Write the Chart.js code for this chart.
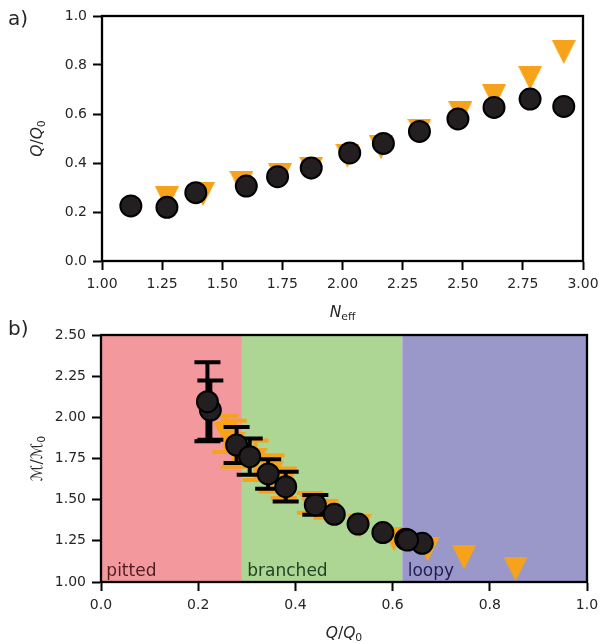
<!DOCTYPE html>
<html>
<head>
<meta charset="utf-8">
<script src="https://cdn.jsdelivr.net/npm/chart.js@4"></script>
<style>
  body { margin: 0; background: #fff; }
  #wrap { position: relative; width: 601px; height: 644px; }
  canvas { position: absolute; left: 0; }
  #topChart { top: 0; }
  #bottomChart { top: 300px; }
</style>
</head>
<body>
<div id="wrap">
  <canvas id="topChart" width="601" height="322"></canvas>
  <canvas id="bottomChart" width="601" height="344"></canvas>
</div>
<script>
// ===== data (a) =====
const neffCircle = [1.12, 1.27, 1.39, 1.60, 1.73, 1.87, 2.03, 2.17, 2.32, 2.48, 2.63, 2.78, 2.92];
const qCircle    = [0.225, 0.219, 0.279, 0.306, 0.344, 0.380, 0.441, 0.480, 0.529, 0.580, 0.627, 0.661, 0.631];
const neffTri    = [1.27, 1.42, 1.58, 1.74, 1.87, 2.02, 2.16, 2.32, 2.49, 2.63, 2.78, 2.92];
const qTri       = [0.256, 0.273, 0.318, 0.351, 0.376, 0.430, 0.464, 0.532, 0.603, 0.672, 0.747, 0.853];

// ===== data (b) =====
const mCircle    = [2.044, 2.095, 1.832, 1.761, 1.656, 1.579, 1.468, 1.411, 1.352, 1.300, 1.259, 1.235, 1.255];
const mCircleErr = [0.18, 0.24, 0.11, 0.11, 0.09, 0.09, 0.06, 0, 0, 0, 0, 0, 0];
const mTri       = [1.90, 1.84, 1.74, 1.66, 1.60, 1.48, 1.43, 1.34, 1.26, 1.20, 1.15, 1.08];
const mTriErr    = [0.11, 0.14, 0.12, 0.11, 0.09, 0.06, 0.04, 0, 0, 0, 0, 0];

const regionEdges  = [0, 0.29, 0.62, 1.0];
const regionNames  = ['pitted', 'branched', 'loopy'];
const regionFills  = ['#f3999d', '#add594', '#9a98c9'];
const regionInk    = ['#4f1c20', '#1f4322', '#1f1e4f'];

const FONT = "'DejaVu Sans', sans-serif";
const INK = '#262626';
const ORANGE = '#f7a21b';
const DARK = '#231f20';

// triangle marker (matplotlib 'v')
const triImg = document.createElement('canvas');
triImg.width = 24; triImg.height = 24;
(function () {
    const c = triImg.getContext('2d');
    c.fillStyle = ORANGE;
    c.beginPath();
    c.moveTo(0, 0); c.lineTo(24, 0); c.lineTo(12, 24);
    c.closePath();
    c.fill();
})();

// rich text: italic / subscript pieces
function fontFor(p, size) {
    return (p.italic ? 'italic ' : '') + (p.sub ? size * 0.7 : size) + 'px ' + FONT;
}
function drawRich(ctx, parts, cx, cy, rot, size) {
    ctx.save();
    ctx.translate(cx, cy);
    ctx.rotate(rot);
    ctx.fillStyle = INK;
    ctx.textBaseline = 'alphabetic';
    const widths = parts.map(p => { ctx.font = fontFor(p, size); return ctx.measureText(p.t).width; });
    let x = -widths.reduce((a, b) => a + b, 0) / 2;
    parts.forEach((p, i) => {
        ctx.font = fontFor(p, size);
        ctx.fillText(p.t, x, size * 0.36 + (p.sub ? size * 0.22 : 0));
        x += widths[i];
    });
    ctx.restore();
}

function drawErrorBars(chart, xs, ys, errs, color) {
    const { ctx, scales: { x, y } } = chart;
    ctx.save();
    ctx.strokeStyle = color;
    ctx.lineWidth = 4;
    xs.forEach((q, i) => {
        if (!errs[i]) return;
        const px = x.getPixelForValue(q);
        const top = y.getPixelForValue(ys[i] + errs[i]);
        const bot = y.getPixelForValue(ys[i] - errs[i]);
        ctx.beginPath();
        ctx.moveTo(px, top); ctx.lineTo(px, bot);
        ctx.moveTo(px - 13, top); ctx.lineTo(px + 13, top);
        ctx.moveTo(px - 13, bot); ctx.lineTo(px + 13, bot);
        ctx.stroke();
    });
    ctx.restore();
}

const framePlugin = {
    id: 'frame',
    afterDatasetsDraw(chart) {
        const { ctx, chartArea: a } = chart;
        ctx.save();
        ctx.strokeStyle = '#000';
        ctx.lineWidth = 2.3;
        ctx.strokeRect(a.left, a.top, a.right - a.left, a.bottom - a.top);
        ctx.restore();
    }
};

function axis(min, max, step, digits, afterFit) {
    return {
        type: 'linear', min: min, max: max,
        ticks: {
            stepSize: step,
            callback: v => v.toFixed(digits),
            font: { family: FONT, size: 14 },
            color: INK,
            padding: 6
        },
        grid: { display: true, drawOnChartArea: false, drawTicks: true, tickLength: 9, tickWidth: 2, tickColor: '#000', color: '#000' },
        border: { display: true, color: '#000', width: 2 },
        title: { display: false },
        afterFit: afterFit
    };
}

// fixed box sizes so the plot areas land where the reference has them
function fixX(h) {
    return s => { s.height = h; s.paddingLeft = 0; s.paddingRight = 0; };
}
function fixY(w) {
    return s => { s.width = w; s.paddingTop = 0; s.paddingBottom = 0; };
}

function baseOptions(padding) {
    return {
        responsive: false,
        animation: false,
        devicePixelRatio: 1,
        layout: { padding: padding },
        plugins: { legend: { display: false }, tooltip: { enabled: false } }
    };
}

// ===== panel a =====
const topOpts = baseOptions({ top: 16, right: 18, left: 0, bottom: 0 });
topOpts.scales = {
    x: axis(1, 3, 0.25, 2, fixX(61)),
    y: axis(0, 1, 0.2, 1, fixY(102))
};
new Chart(document.getElementById('topChart'), {
    type: 'scatter',
    data: {
        datasets: [
            {
                data: neffCircle.map((n, i) => ({ x: n, y: qCircle[i] })),
                pointStyle: 'circle', pointRadius: 10.5,
                backgroundColor: DARK, borderColor: '#000', borderWidth: 2, clip: false
            },
            {
                data: neffTri.map((n, i) => ({ x: n, y: qTri[i] })),
                pointStyle: triImg, pointRadius: 12,
                backgroundColor: ORANGE, borderWidth: 0, clip: false
            }
        ]
    },
    options: topOpts,
    plugins: [framePlugin, {
        id: 'labelsA',
        afterDraw(chart) {
            const { ctx, chartArea: a } = chart;
            drawRich(ctx, [{ t: 'Q', italic: true }, { t: '/' }, { t: 'Q', italic: true }, { t: '0', sub: true }],
                36, (a.top + a.bottom) / 2, -Math.PI / 2, 15.5);
            drawRich(ctx, [{ t: 'N', italic: true }, { t: 'eff', sub: true }],
                (a.left + a.right) / 2, 311, 0, 15.5);
            ctx.save();
            ctx.fillStyle = INK;
            ctx.font = '20px ' + FONT;
            ctx.textBaseline = 'middle';
            ctx.fillText('a)', 8, 20);
            ctx.restore();
        }
    }]
});

// ===== panel b =====
const botOpts = baseOptions({ top: 35, right: 14, left: 0, bottom: 0 });
botOpts.scales = {
    x: axis(0, 1, 0.2, 1, fixX(62)),
    y: axis(1, 2.5, 0.25, 2, fixY(101))
};
new Chart(document.getElementById('bottomChart'), {
    type: 'scatter',
    data: {
        datasets: [
            {
                data: qCircle.map((q, i) => ({ x: q, y: mCircle[i] })),
                pointStyle: 'circle', pointRadius: 10.5,
                backgroundColor: DARK, borderColor: '#000', borderWidth: 2, clip: false
            },
            {
                data: qTri.map((q, i) => ({ x: q, y: mTri[i] })),
                pointStyle: triImg, pointRadius: 12,
                backgroundColor: ORANGE, borderWidth: 0, clip: false
            }
        ]
    },
    options: botOpts,
    plugins: [{
        id: 'regions',
        beforeDatasetsDraw(chart) {
            const { ctx, chartArea: a, scales: { x, y } } = chart;
            ctx.save();
            regionNames.forEach((name, i) => {
                const x0 = x.getPixelForValue(regionEdges[i]);
                const x1 = x.getPixelForValue(regionEdges[i + 1]);
                ctx.fillStyle = regionFills[i];
                ctx.fillRect(x0, a.top, x1 - x0, a.bottom - a.top);
                ctx.fillStyle = regionInk[i];
                ctx.font = '17px ' + FONT;
                ctx.textBaseline = 'alphabetic';
                ctx.fillText(name, x.getPixelForValue(regionEdges[i] + 0.011), y.getPixelForValue(1.035));
            });
            ctx.restore();
        },
        beforeDatasetDraw(chart, args) {
            if (args.index === 1) drawErrorBars(chart, qTri, mTri, mTriErr, ORANGE);
        },
        afterDatasetDraw(chart, args) {
            if (args.index === 1) drawErrorBars(chart, qCircle, mCircle, mCircleErr, '#000');
        }
    }, framePlugin, {
        id: 'labelsB',
        afterDraw(chart) {
            const { ctx, chartArea: a } = chart;
            drawRich(ctx, [{ t: 'ℳ', italic: true }, { t: '/' }, { t: 'ℳ', italic: true }, { t: '0', sub: true }],
                36, (a.top + a.bottom) / 2, -Math.PI / 2, 15.5);
            drawRich(ctx, [{ t: 'Q', italic: true }, { t: '/' }, { t: 'Q', italic: true }, { t: '0', sub: true }],
                (a.left + a.right) / 2, 332, 0, 15.5);
            ctx.save();
            ctx.fillStyle = INK;
            ctx.font = '20px ' + FONT;
            ctx.textBaseline = 'middle';
            ctx.fillText('b)', 8, 30);
            ctx.restore();
        }
    }]
});
</script>
</body>
</html>
